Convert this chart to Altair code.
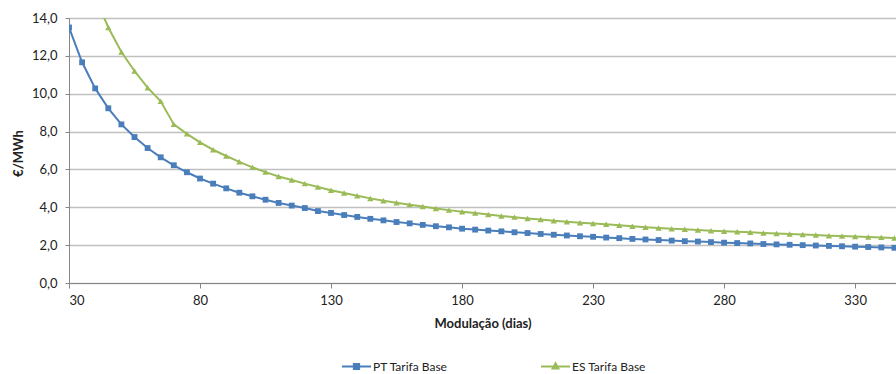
import altair as alt
import pandas as pd

# Modulation period (days)
days = [30, 35, 40, 45, 50, 55, 60, 65, 70, 75,
        80, 85, 90, 95, 100, 105, 110, 115, 120, 125,
        130, 135, 140, 145, 150, 155, 160, 165, 170, 175,
        180, 185, 190, 195, 200, 205, 210, 215, 220, 225,
        230, 235, 240, 245, 250, 255, 260, 265, 270, 275,
        280, 285, 290, 295, 300, 305, 310, 315, 320, 325,
        330, 335, 340, 345]

# €/MWh
pt_tarifa_base = [13.50, 11.66, 10.28, 9.23, 8.38, 7.71, 7.13, 6.64, 6.22, 5.85,
                  5.52, 5.25, 5.00, 4.77, 4.58, 4.40, 4.23, 4.09, 3.96, 3.80,
                  3.70, 3.59, 3.49, 3.39, 3.31, 3.22, 3.15, 3.07, 3.00, 2.94,
                  2.87, 2.82, 2.77, 2.73, 2.68, 2.64, 2.59, 2.55, 2.51, 2.47,
                  2.44, 2.40, 2.37, 2.33, 2.30, 2.27, 2.24, 2.21, 2.19, 2.16,
                  2.13, 2.11, 2.09, 2.06, 2.04, 2.02, 2.00, 1.98, 1.96, 1.94,
                  1.92, 1.90, 1.88, 1.86]

es_tarifa_base = [19.50, 17.10, 15.10, 13.50, 12.20, 11.20, 10.32, 9.60, 8.38, 7.88,
                  7.43, 7.04, 6.71, 6.40, 6.11, 5.86, 5.63, 5.44, 5.25, 5.07,
                  4.90, 4.75, 4.61, 4.47, 4.35, 4.24, 4.14, 4.04, 3.94, 3.85,
                  3.77, 3.70, 3.62, 3.54, 3.48, 3.41, 3.35, 3.29, 3.23, 3.18,
                  3.14, 3.10, 3.05, 3.00, 2.95, 2.91, 2.87, 2.84, 2.80, 2.76,
                  2.73, 2.71, 2.68, 2.64, 2.61, 2.59, 2.56, 2.53, 2.50, 2.48,
                  2.46, 2.43, 2.41, 2.38]

series_names = ["PT Tarifa Base", "ES Tarifa Base"]
series_colors = ["#4A7EBB", "#9BBB59"]
series_shapes = ["square", "triangle-up"]

x_ticks = [30, 80, 130, 180, 230, 280, 330]
y_ticks = [0, 2, 4, 6, 8, 10, 12, 14]

df = pd.DataFrame({
    "dias": days + days,
    "valor": pt_tarifa_base + es_tarifa_base,
    "serie": [series_names[0]] * len(days) + [series_names[1]] * len(days),
})

FONT = "Lato"
TEXT = "#222222"

# Legend symbols: a short line with the series marker in the middle
legend_paths = [
    "M-1,0H-0.18M0.18,0H1M-0.18,-0.18H0.18V0.18H-0.18Z",
    "M-1,0H-0.2M0.2,0H1M0,-0.22L0.2,0.14H-0.2Z",
]


def series_legend(i, legend_x):
    return alt.Legend(
        title=None, orient="none", legendX=legend_x, legendY=333,
        direction="horizontal", symbolType=legend_paths[i], symbolSize=841,
        symbolStrokeWidth=2, symbolOpacity=1,
        symbolFillColor=series_colors[i], symbolStrokeColor=series_colors[i],
        labelOffset=1, labelFont=FONT, labelFontSize=12, labelColor=TEXT,
    )


x_enc = alt.X(
    "dias:Q",
    scale=alt.Scale(domain=[30, 345.6], nice=False, zero=False),
    axis=alt.Axis(values=x_ticks, format="d", title="Modulação (dias)",
                  grid=False, tickSize=5, labelPadding=6, titlePadding=10),
)
y_enc = alt.Y(
    "valor:Q",
    scale=alt.Scale(domain=[0, 14], nice=False),
    axis=alt.Axis(values=y_ticks, title="€/MWh", grid=True,
                  labelExpr="replace(format(datum.value, '.1f'), '.', ',')",
                  tickSize=4, labelPadding=8,
                  titleX=-47, titleY=135, titleBaseline="alphabetic"),
)

base = alt.Chart(df).encode(x=x_enc, y=y_enc)
pt_base = base.transform_filter(alt.datum.serie == series_names[0])
es_base = base.transform_filter(alt.datum.serie == series_names[1])

# Each series carries its own legend entry
pt_line = pt_base.mark_line(strokeWidth=2, clip=True).encode(
    color=alt.Color("serie:N",
                    scale=alt.Scale(domain=[series_names[0]], range=[series_colors[0]]),
                    legend=series_legend(0, 272))
)
es_line = es_base.mark_line(strokeWidth=2, clip=True).encode(
    stroke=alt.Stroke("serie:N",
                      scale=alt.Scale(domain=[series_names[1]], range=[series_colors[1]]),
                      legend=series_legend(1, 471))
)

pt_points = pt_base.mark_point(
    filled=True, opacity=1, size=34, shape=series_shapes[0],
    color=series_colors[0], clip=True
)
es_points = es_base.mark_point(
    filled=True, opacity=1, size=40, shape=series_shapes[1],
    color=series_colors[1], clip=True
)

chart = (
    alt.layer(pt_line, es_line, pt_points, es_points)
    .properties(width=827, height=265, autosize="none",
                padding={"left": 69, "top": 18, "right": 0, "bottom": 91},
                background="white")
    .configure_view(stroke=None)
    .configure_axis(
        labelFont=FONT, labelFontSize=13, labelColor=TEXT,
        titleFont=FONT, titleFontSize=13, titleFontWeight="bold", titleColor=TEXT,
        domainColor="#868686", tickColor="#868686", domainWidth=1, tickWidth=1,
        gridColor="#C0C0C0", gridWidth=1.5,
    )
)

chart.save("out.html", embed_options={"renderer": "svg", "actions": False})
